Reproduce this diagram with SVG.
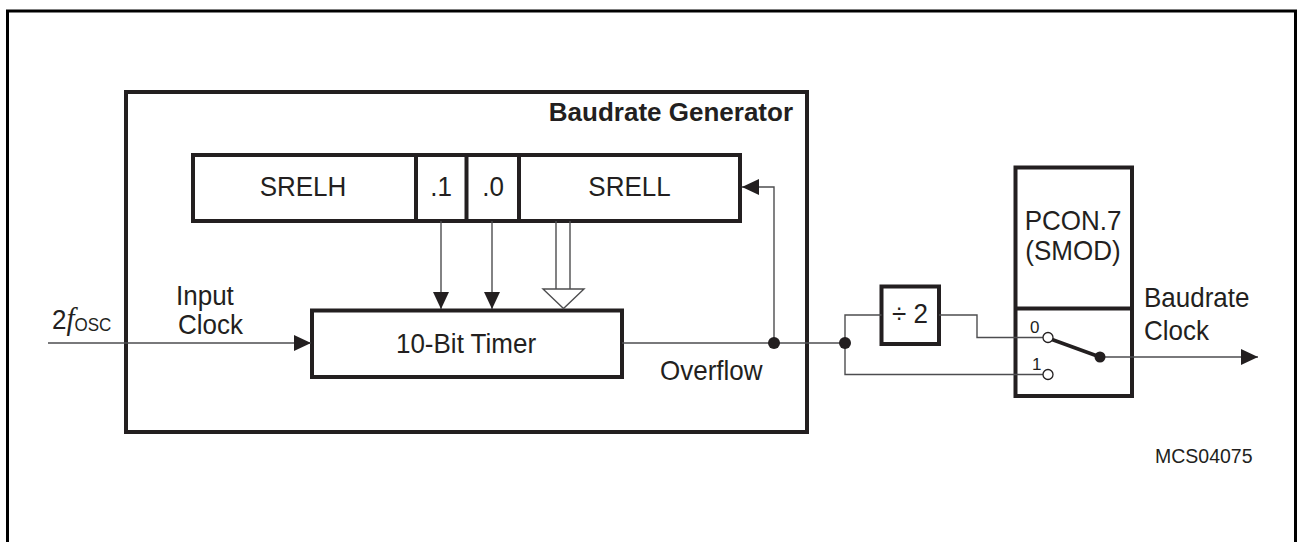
<svg xmlns="http://www.w3.org/2000/svg" width="1297" height="542" viewBox="0 0 1297 542">
<style>
.thick{fill:none;stroke:#231f20;stroke-width:4}
.thin{fill:none;stroke:#4d4d4f;stroke-width:1.4}
.t{font-family:"Liberation Sans",Arial,sans-serif;font-size:26px;fill:#231f20}
.s{font-size:17px}
.m{font-size:19.5px}
.c{text-anchor:middle}
.b{font-weight:bold}
.dot{fill:#231f20}
.open{fill:#fff;stroke:#231f20;stroke-width:1.3}
</style>
<defs>
<marker id="ah" markerUnits="userSpaceOnUse" markerWidth="17" markerHeight="16" refX="17" refY="8" orient="auto">
<path d="M0,0 L17,8 L0,16 z" fill="#231f20"/>
</marker>
</defs>
<rect width="1297" height="542" fill="#fff"/>
<path d="M7.5,545 V11 H1295.5 V545" fill="none" stroke="#000" stroke-width="3"/>

<g id="baudrate-generator">
<rect class="thick" x="126" y="92" width="681" height="340"/>
<text class="t b" x="793" y="121" text-anchor="end">Baudrate Generator</text>
</g>

<g id="register">
<rect class="thick" x="193" y="155" width="547" height="66"/>
<line class="thick" x1="416" y1="155" x2="416" y2="221"/>
<line class="thick" x1="466.5" y1="155" x2="466.5" y2="221"/>
<line class="thick" x1="519" y1="155" x2="519" y2="221"/>
<text class="t c" transform="translate(303 196) scale(1 1.08)">SRELH</text>
<text class="t c" transform="translate(441 196) scale(1 1.08)">.1</text>
<text class="t c" transform="translate(493 196) scale(1 1.08)">.0</text>
<text class="t c" transform="translate(629.5 196) scale(1 1.08)">SRELL</text>
</g>

<g id="timer">
<rect class="thick" x="312" y="310.5" width="310" height="66.5"/>
<text class="t c" transform="translate(466 353) scale(1 1.08)">10-Bit Timer</text>
</g>

<g id="divider">
<rect class="thick" x="881.5" y="286.5" width="57.5" height="57.5"/>
<text class="t c" transform="translate(910 323) scale(1 1.08)">÷ 2</text>
</g>

<g id="pcon">
<rect class="thick" x="1015.5" y="167.5" width="116.5" height="228.5"/>
<line class="thick" x1="1015.5" y1="308.5" x2="1132" y2="308.5"/>
<text class="t c" transform="translate(1073 230) scale(1 1.08)">PCON.7</text>
<text class="t c" transform="translate(1073 260) scale(1 1.08)">(SMOD)</text>
</g>

<g id="connectors">
<path class="thin" d="M48,343 H311" marker-end="url(#ah)"/>
<path class="thin" d="M441,221 V309" marker-end="url(#ah)"/>
<path class="thin" d="M492,221 V309" marker-end="url(#ah)"/>
<path class="thin" d="M556,221 V289 M570,221 V289"/>
<polygon points="543,289 584,289 563.5,308.5" fill="#fff" stroke="#4d4d4f" stroke-width="1.4"/>
<path class="thin" d="M622,343 H845"/>
<path class="thin" d="M774,343 V187 H742" marker-end="url(#ah)"/>
<path class="thin" d="M881.5,315 H845 V374.5 H1043"/>
<path class="thin" d="M939,315 H977 V337.5 H1043"/>
<line x1="1052" y1="339.5" x2="1100" y2="357" stroke="#231f20" stroke-width="3.5"/>
<path class="thin" d="M1100,357 H1258" marker-end="url(#ah)"/>
<circle class="dot" cx="774" cy="343" r="6"/>
<circle class="dot" cx="845" cy="343" r="6"/>
<circle class="dot" cx="1100" cy="357" r="5.5"/>
<circle class="open" cx="1048" cy="337.5" r="5"/>
<circle class="open" cx="1048" cy="374.5" r="5"/>
</g>

<g id="labels">
<text class="t" transform="translate(52 329) scale(1 1.08)">2<tspan style="font-family:'Liberation Serif',serif;font-style:italic;font-size:29px">f</tspan><tspan class="s" dy="2">OSC</tspan></text>
<text class="t" transform="translate(176 305) scale(1 1.08)">Input</text>
<text class="t" transform="translate(178 334) scale(1 1.08)">Clock</text>
<text class="t" transform="translate(660 380) scale(1 1.08)">Overflow</text>
<text class="t s" x="1030" y="333">0</text>
<text class="t s" x="1032" y="370">1</text>
<text class="t" transform="translate(1144 307) scale(1 1.08)">Baudrate</text>
<text class="t" transform="translate(1144 340) scale(1 1.08)">Clock</text>
<text class="t m" x="1155" y="463">MCS04075</text>
</g>
</svg>
